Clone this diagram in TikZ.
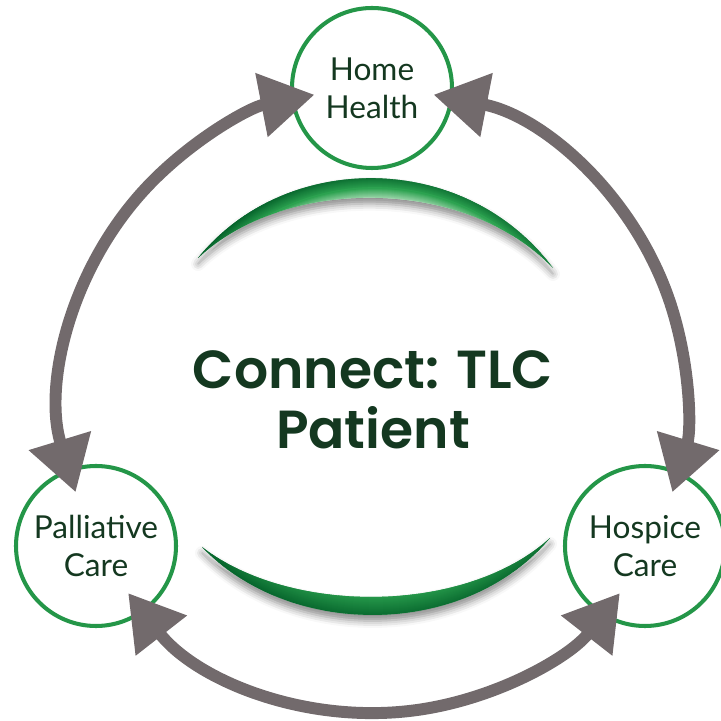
\documentclass[tikz,border=0pt]{standalone}
\usepackage{fontspec}
\setmainfont{Lato}
\newfontfamily\hubfont{Poppins SemiBold}
\usetikzlibrary{arrows.meta,calc,shadows.blur}
\definecolor{ringgreen}{RGB}{36,150,72}
\definecolor{labelgreen}{RGB}{20,56,32}
\definecolor{arcgray}{RGB}{114,106,108}
\definecolor{leafdark}{RGB}{6,100,44}
\definecolor{leafmid}{RGB}{44,162,80}
\definecolor{leaflight}{RGB}{205,236,210}
\tikzset{
  care/.style   ={circle, draw=ringgreen, line width=2.3pt, minimum size=3.2cm, inner sep=0pt,
                  align=center, text=labelgreen, font=\fontsize{18}{21.5}\selectfont},
  link/.style   ={{Triangle[length=1.08cm,width=1.24cm]}-{Triangle[length=1.08cm,width=1.24cm]},
                  line width=6.8pt, draw=arcgray},
  hubtext/.style={align=center, text=labelgreen, font=\hubfont\fontsize{30.5}{34}\selectfont},
  leafshadow/.style={fill=white, blur shadow={shadow xshift=0mm, shadow yshift=-1.2mm,
                  shadow blur radius=1.4mm, shadow opacity=45}}
}
% the two leaf outlines
\newcommand{\upperleaf}{(198,463) .. controls (285,571) and (465,571) .. (553,453)
  .. controls (465,545) and (285,545) .. (198,463) -- cycle}
\newcommand{\lowerleaf}{(202,174) .. controls (290,106) and (465,106) .. (550,183)
  .. controls (465,82) and (290,82) .. (202,174) -- cycle}

\begin{document}
\begin{tikzpicture}[x=0.2mm, y=0.2mm]
\useasboundingbox (0,0) rectangle (721,721);
\coordinate (hub) at (374,320);

% upper leaf
\path[leafshadow] \upperleaf;
\begin{scope}
  \clip \upperleaf;
  \coordinate (uc) at (375,315);
  \foreach \r in {218,...,231}{
    \pgfmathsetmacro\p{(\r-218)/13*100}
    \draw[line width=0.35mm, leafdark!\p!leafmid] (uc) circle[radius=\r];
  }
  \foreach \r in {204,...,218}{
    \pgfmathsetmacro\p{(\r-204)/14*100}
    \draw[line width=0.35mm, leafmid!\p!leaflight] (uc) circle[radius=\r];
  }
\end{scope}

% lower leaf
\path[leafshadow] \lowerleaf;
\begin{scope}
  \clip \lowerleaf;
  \coordinate (lc) at (376,352);
  \foreach \r in {224,...,250}{
    \pgfmathsetmacro\p{(\r-224)/26*100}
    \draw[line width=0.35mm, leafdark!\p!leafmid] (lc) circle[radius=\r];
  }
\end{scope}

% services
\node[care] (home) at (372,633) {Home\\Health};
\node[care] (pall) at (96,175) {Palliative\\Care};
\node[care] (hosp) at (645,175) {Hospice\\Care};

\node[hubtext] (title) at (373,321) {Connect: TLC\\Patient};

% two-way links round the ring
\foreach \s/\e in {197/101, 79/-17, 218/322}
  \draw[link] ($(hub)+(\s:312)$) arc[start angle=\s, end angle=\e, radius=312];
\end{tikzpicture}
\end{document}
